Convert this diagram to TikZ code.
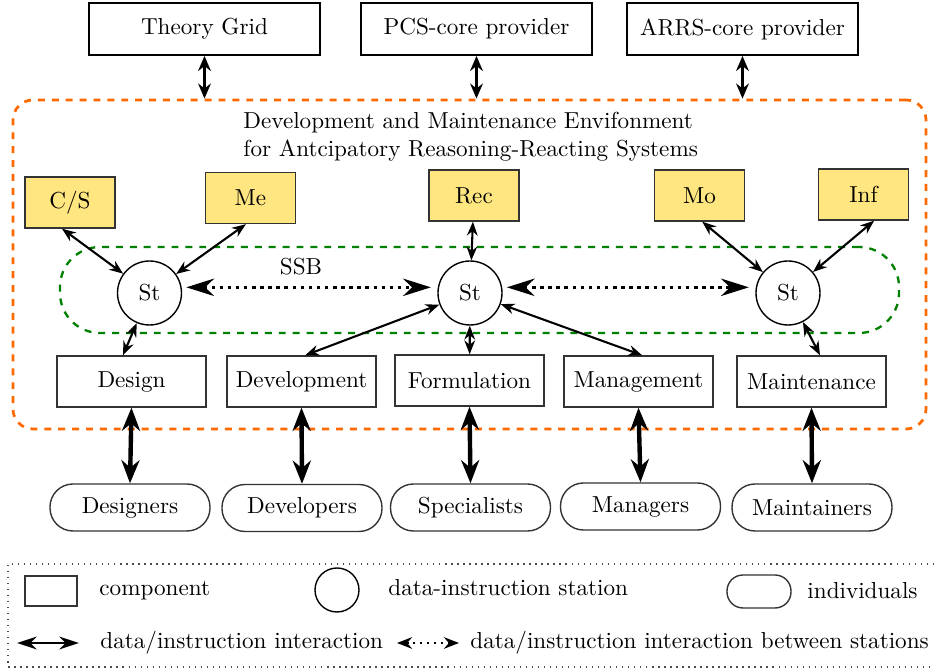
\documentclass[tikz,border=0pt]{standalone}
\usepackage{xcolor}
\usepackage{tikz}
\usetikzlibrary{arrows.meta, positioning, shapes.geometric, calc}
\definecolor{envorange}{HTML}{FF6A00}
\definecolor{busgreen}{HTML}{008000}
\definecolor{partyellow}{HTML}{FFE680}
\newlength\px
\setlength\px{0.432pt}

\begin{document}
\begin{tikzpicture}[x=0.432pt, y=-0.432pt,
    provider/.style={rectangle, draw, line width=0.8pt, minimum width=231\px, minimum height=52\px},
    part/.style={rectangle, draw=black!80, fill=partyellow, line width=0.6pt, minimum width=90\px, minimum height=51\px},
    station/.style={circle, draw, line width=0.6pt, minimum size=64\px, inner sep=0pt},
    component/.style={rectangle, draw=black!80, line width=0.6pt, minimum width=149\px, minimum height=51\px},
    people/.style={rectangle, rounded corners=23\px, draw=black!80, line width=0.6pt, minimum width=160\px, minimum height=47\px},
    inter/.style={{Stealth[length=6pt, width=4.6pt]}-{Stealth[length=6pt, width=4.6pt]}, line width=0.9pt},
    feed/.style={{Stealth[length=6.5pt, width=5.5pt]}-{Stealth[length=6.5pt, width=5.5pt]}, line width=1.1pt},
    human/.style={{Stealth[length=10pt, width=7.8pt]}-{Stealth[length=10pt, width=7.8pt]}, line width=1.9pt},
    link/.style={{Stealth[length=12pt, width=7.5pt]}-{Stealth[length=12pt, width=7.5pt]}, line width=1.5pt, dotted, shorten <=2pt, shorten >=3pt},
    legtext/.style={anchor=west, inner sep=0pt}
]
\useasboundingbox (0,0) rectangle (934,670);

% Providers
\node[provider] (theory) at (204.5,29) {Theory Grid};
\node[provider] (pcs) at (476.5,29) {PCS-core provider};
\node[provider] (arrs) at (742.5,29) {ARRS-core provider};

% Environment and station bus
\node[rectangle, draw=envorange, dashed, line width=1.2pt, rounded corners=20\px,
      minimum width=913\px, minimum height=329\px] (env) at (469.5,264.5) {};
\node[rectangle, draw=busgreen, dashed, line width=1pt, rounded corners=40\px,
      minimum width=839\px, minimum height=86\px] (ssb) at (479.5,290) {};
\node[anchor=west, inner sep=0pt, align=left] (title) at (243,137)
    {Development and Maintenance Envifonment\\for Antcipatory Reasoning-Reacting Systems};
\node (ssblabel) at (301,267) {SSB};

% Parts
\node[part] (cs) at (70,202.5) {C/S};
\node[part] (me) at (250.5,198) {Me};
\node[part] (rec) at (474,195.5) {Rec};
\node[part] (mo) at (699.5,195.5) {Mo};
\node[part] (inf) at (863.5,194.5) {Inf};

% Stations
\node[station] (st1) at (149.5,293) {St};
\node[station] (st2) at (470,293) {St};
\node[station] (st3) at (788,293) {St};

% Components
\node[component] (design) at (131.5,381.5) {Design};
\node[component] (devel) at (301.5,381.5) {Development};
\node[component] (form) at (469.5,380.5) {Formulation};
\node[component] (manage) at (638.5,381.5) {Management};
\node[component] (maint) at (811.5,381.5) {Maintenance};

% Individuals
\node[people] (designers) at (130,507.5) {Designers};
\node[people] (developers) at (302,508) {Developers};
\node[people] (specialists) at (470.5,507.5) {Specialists};
\node[people] (managers) at (640.5,506.5) {Managers};
\node[people] (maintainers) at (812,507.5) {Maintainers};

% Provider links
\draw[feed] (theory.south) -- (theory.south |- env.north);
\draw[feed] (pcs.south) -- (pcs.south |- env.north);
\draw[feed] (arrs.south) -- (arrs.south |- env.north);

% Parts to stations
\draw[inter] (cs.253) -- (st1);
\draw[inter] (me.260) -- (st1);
\draw[inter] (rec) -- (st2);
\draw[inter] (mo.276) -- (st3);
\draw[inter] (inf.292) -- (st3);

% Stations to components
\draw[inter] (st1) -- (design.108);
\draw[inter] (st2) -- (devel.82);
\draw[inter] (st2) -- (form);
\draw[inter] (st2) -- (manage.82);
\draw[inter] (st3) -- (maint.72);

% Between stations
\draw[link] (st1.10) -- (st2.170);
\draw[link] (st2.10) -- (st3.170);

% Components to individuals
\draw[human] (design.south) -- (designers.north);
\draw[human] (devel.south) -- (developers.north);
\draw[human] (form.south) -- (specialists.north);
\draw[human] (manage.south) -- (managers.north);
\draw[human] (maint.south) -- (maintainers.north);

% Legend
\draw[dotted, black!70, line width=0.6pt] (934,564) -- (8,564) -- (8,667) -- (934,667);
\node[rectangle, draw=black!80, line width=0.6pt, minimum width=52\px, minimum height=30\px] (legcomp) at (51,591) {};
\node[legtext] (legcomptext) at (99,591) {component};
\node[circle, draw, line width=0.6pt, minimum size=44\px, inner sep=0pt] (legst) at (337,590) {};
\node[legtext] (legsttext) at (388,588) {data-instruction station};
\node[rectangle, rounded corners=16\px, draw=black!80, line width=0.6pt, minimum width=64\px, minimum height=33\px] (legpeople) at (759,591.5) {};
\node[legtext] (legpeopletext) at (807,591) {individuals};
\coordinate (ia) at (17,643);
\coordinate (ib) at (79,643);
\draw[{Stealth[length=8.5pt, width=5.5pt]}-{Stealth[length=8.5pt, width=5.5pt]}, line width=0.9pt] (ia) -- (ib);
\node[legtext] (leginter) at (100,643) {data/instruction interaction};
\coordinate (la) at (397,643);
\coordinate (lb) at (459,643);
\draw[{Stealth[length=6.5pt, width=5pt]}-{Stealth[length=6.5pt, width=5pt]}, line width=1pt, dotted] (la) -- (lb);
\node[legtext] (leglink) at (470,643) {data/instruction interaction between stations};

\end{tikzpicture}
\end{document}
